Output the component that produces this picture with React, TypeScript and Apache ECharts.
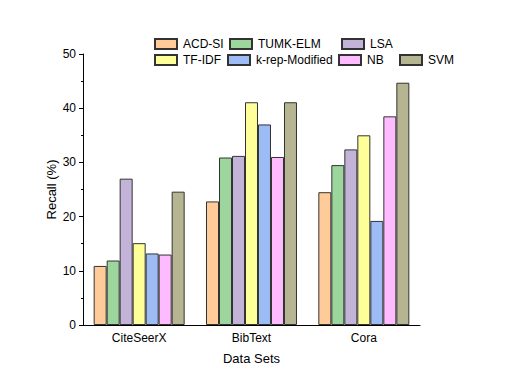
import React, { useEffect, useRef } from "react";
import * as echarts from "echarts";

const categories = ["CiteSeerX", "BibText", "Cora"];
const seriesNames = ["ACD-SI", "TUMK-ELM", "LSA", "TF-IDF", "k-rep-Modified", "NB", "SVM"];
const acdSi = [10.9, 22.8, 24.5];
const tumkElm = [11.9, 30.9, 29.5];
const lsa = [27.0, 31.2, 32.4];
const tfIdf = [15.1, 41.1, 35.0];
const kRepModified = [13.2, 37.0, 19.2];
const nb = [13.0, 31.0, 38.5];
const svm = [24.6, 41.1, 44.7];
const colors = ["#FFCC99", "#9CD69C", "#C4B3D9", "#FFFF99", "#9DBBF5", "#FFBBFF", "#B5B592"];

const seriesValues = [acdSi, tumkElm, lsa, tfIdf, kRepModified, nb, svm];
const legendPos: [number, number][] = [
  [154, 38], [229, 38], [341, 38],
  [154, 54], [227, 54], [338, 54], [399, 54],
];

export default function App() {
  const ref = useRef<HTMLDivElement>(null);
  useEffect(() => {
    if (!ref.current) return;
    const chart = echarts.init(ref.current, null, { renderer: "svg" });
    const font = "Liberation Sans, Arial, sans-serif";
    chart.setOption({
      animation: false,
      textStyle: { fontFamily: font },
      legend: seriesNames.map((n, i) => ({
        data: [{ name: n, icon: "rect" }],
        left: legendPos[i][0],
        top: legendPos[i][1],
        padding: 0,
        itemWidth: 22,
        itemHeight: 10,
        textStyle: { fontSize: 12, color: "#000", fontFamily: font, padding: [0, 0, 0, 1] },
        selectedMode: false,
      })),
      grid: { left: 83, top: 54, right: 88, bottom: 65 },
      xAxis: [
        {
          type: "category",
          data: categories,
          name: "Data Sets",
          nameLocation: "middle",
          nameGap: 27,
          nameTextStyle: { fontSize: 13, color: "#000" },
          axisLine: { lineStyle: { color: "#000", width: 1 } },
          axisTick: { alignWithLabel: true, length: 4, lineStyle: { color: "#000" } },
          axisLabel: { fontSize: 12, color: "#000", margin: 7 },
        },
        {
          type: "category",
          data: categories,
          position: "bottom",
          axisLine: { show: false },
          axisTick: { inside: true, length: 3, lineStyle: { color: "#000" } },
          axisLabel: { show: false },
        },
      ],
      yAxis: {
        type: "value",
        min: 0,
        max: 50,
        interval: 10,
        name: "Recall (%)",
        nameLocation: "middle",
        nameGap: 25,
        nameMoveOverlap: false,
        nameTextStyle: { fontSize: 13, color: "#000" },
        axisLine: { show: true, lineStyle: { color: "#000", width: 1 } },
        axisTick: { show: true, length: 4, lineStyle: { color: "#000" } },
        minorTick: { show: true, splitNumber: 2, length: 2, lineStyle: { color: "#000" } },
        axisLabel: { fontSize: 12, color: "#000", margin: 7 },
        splitLine: { show: false },
      },
      series: seriesNames.map((n, i) => ({
        name: n,
        type: "bar",
        data: seriesValues[i],
        barGap: "0%",
        barCategoryGap: "19%",
        itemStyle: { color: colors[i], borderColor: "#333", borderWidth: 1 },
      })),
    });
    return () => chart.dispose();
  }, []);
  return <div ref={ref} style={{ width: 508, height: 390, position: "absolute", left: 0, top: 0 }} />;
}
